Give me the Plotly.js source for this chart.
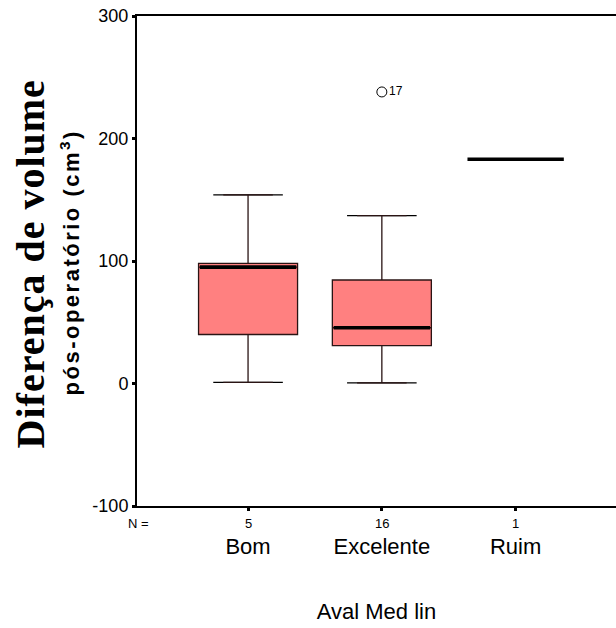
<!DOCTYPE html>
<html>
<head>
<meta charset="utf-8">
<script src="https://cdn.plot.ly/plotly-3.0.1.min.js"></script>
<style>html,body{margin:0;padding:0;background:#fff;}</style>
</head>
<body>
<div id="chart" style="width:616px;height:628px;"></div>
<script>
// ---- data ----
const categories = ['Bom', 'Excelente', 'Ruim'];
const counts = [5, 16, 1];
const lowerWhisker = [1, 0.5, 183];
const q1 = [40, 31, 183];
const medians = [95, 45.5, 183];
const q3 = [98, 84.5, 183];
const upperWhisker = [154, 137, 183];
const outlierCategories = ['Excelente'];
const outlierValues = [238];
const outlierLabels = ['17'];
const yTickValues = [-100, 0, 100, 200, 300];
const yTickLabels = ['-100', '0', '100', '200', '300'];

const boxCats = categories.slice(0, 2);
const font = 'Arial, "Liberation Sans", sans-serif';

function flatBox(cats, vals, w, lw) {
  return {
    type: 'box', x: cats, q1: vals, median: vals, q3: vals,
    lowerfence: vals, upperfence: vals, width: w,
    fillcolor: 'rgba(0,0,0,0)', line: {color: '#000', width: lw},
    hoverinfo: 'skip', showlegend: false
  };
}

const traces = [
  flatBox(boxCats, lowerWhisker.slice(0, 2), 0.52, 1.2),
  flatBox(boxCats, upperWhisker.slice(0, 2), 0.52, 1.2),
  {
    type: 'box', x: boxCats,
    q1: q1.slice(0, 2), median: medians.slice(0, 2), q3: q3.slice(0, 2),
    lowerfence: lowerWhisker.slice(0, 2), upperfence: upperWhisker.slice(0, 2),
    width: 0.74, fillcolor: '#ff8080', line: {color: '#2a1414', width: 1.3},
    showlegend: false
  },
  flatBox(categories, medians, 0.72, 3.6),
  {
    type: 'scatter', mode: 'markers+text', x: outlierCategories, y: outlierValues,
    text: outlierLabels, textposition: 'middle right',
    textfont: {family: font, size: 12, color: '#000'},
    marker: {symbol: 'circle-open', size: 10, color: '#000', line: {width: 1}},
    showlegend: false
  }
];

const annotations = [
  {xref: 'paper', yref: 'paper', x: 0.004, y: -0.035, text: 'N =', showarrow: false,
   xanchor: 'center', yanchor: 'middle', font: {family: font, size: 13, color: '#000'}},
  {xref: 'paper', yref: 'paper', x: -0.2234, y: 0.495, textangle: -90, showarrow: false,
   xanchor: 'center', yanchor: 'middle',
   text: '<span style="letter-spacing:1px">Diferença de volume</span>',
   font: {family: '"Liberation Serif", "Times New Roman", serif', size: 40, color: '#000', weight: 'bold'}},
  {xref: 'paper', yref: 'paper', x: -0.1399, y: 0.497, textangle: -90, showarrow: false,
   xanchor: 'center', yanchor: 'middle',
   text: '<span style="letter-spacing:2.5px">pós-operatório (cm<sup>3</sup>)</span>',
   font: {family: font, size: 22, color: '#000', weight: 'bold'}}
];
categories.forEach((c, i) => {
  annotations.push({xref: 'x', yref: 'paper', x: c, y: -0.035, text: String(counts[i]),
    showarrow: false, xanchor: 'center', yanchor: 'middle',
    font: {family: font, size: 13, color: '#000'}});
});

const layout = {
  width: 616, height: 628,
  margin: {l: 137, r: 0, t: 16, b: 122, pad: 0},
  paper_bgcolor: '#fff', plot_bgcolor: '#fff',
  showlegend: false, boxmode: 'overlay',
  font: {family: font, color: '#000'},
  xaxis: {
    type: 'category', categoryorder: 'array', categoryarray: categories,
    range: [-0.83, 2.75], autorange: false,
    showline: true, linecolor: '#000', linewidth: 2, mirror: true,
    ticks: 'outside', ticklen: 3, tickwidth: 3, tickcolor: '#000',
    tickfont: {family: font, size: 22, color: '#000'},
    ticklabelstandoff: 17,
    showgrid: false, zeroline: false,
    title: {text: 'Aval Med lin', font: {family: font, size: 22, color: '#000'}, standoff: 45}
  },
  yaxis: {
    range: [-100, 300], autorange: false,
    tickmode: 'array', tickvals: yTickValues, ticktext: yTickLabels,
    showline: true, linecolor: '#000', linewidth: 2,
    ticks: 'outside', ticklen: 3, tickwidth: 3, tickcolor: '#000',
    tickfont: {family: font, size: 18, color: '#000'},
    showgrid: false, zeroline: false
  },
  annotations: annotations
};

Plotly.newPlot('chart', traces, layout, {displayModeBar: false, staticPlot: true});
</script>
</body>
</html>
